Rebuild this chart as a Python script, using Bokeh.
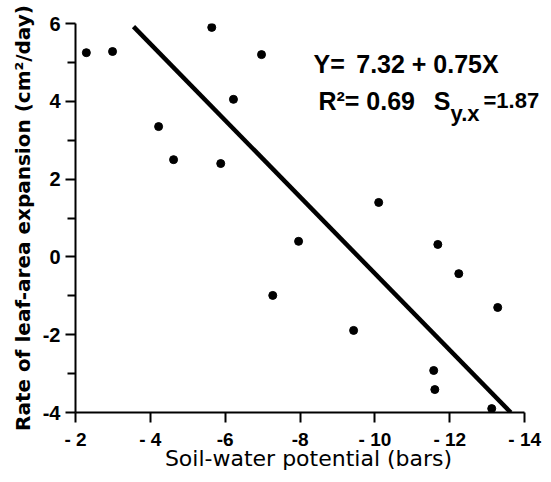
from bokeh.plotting import figure
from bokeh.models import Range1d, FixedTicker, Label
from bokeh.embed import file_html
from bokeh.resources import INLINE

# Data
soil_potential = [-2.29, -2.99, -5.64, -6.97, -6.22, -4.22, -4.62, -5.88,
                  -10.1, -7.96, -11.68, -7.27, -12.24, -13.28, -9.43,
                  -11.57, -11.60, -13.12]
expansion_rate = [5.25, 5.28, 5.90, 5.20, 4.05, 3.35, 2.50, 2.40,
                  1.40, 0.40, 0.32, -0.99, -0.43, -1.30, -1.89,
                  -2.92, -3.41, -3.90]

# regression line as drawn
line_x = [-3.55, -13.63]
line_y = [5.92, -4.0]

x_ticks = [-2, -4, -6, -8, -10, -12, -14]
x_tick_labels = ["- 2", "- 4", "-6", "-8", "- 10", "- 12", "- 14"]
y_ticks = [-4, -2, 0, 2, 4, 6]
y_minor = [-3, -1, 1, 3, 5]
y_tick_labels = ["-4", "-2", "0", "2", "4", "6"]

FONT = "Liberation Sans"

p = figure(width=543, height=474, output_backend="svg", toolbar_location=None,
           x_range=Range1d(-2.0, -14.45), y_range=Range1d(-4.0, 6.0),
           min_border_left=75, min_border_right=2, min_border_top=23,
           min_border_bottom=62)
p.outline_line_color = None
p.grid.visible = False
p.background_fill_color = "white"
p.border_fill_color = "white"

p.scatter(soil_potential, expansion_rate, size=8, color="black")
p.line(line_x, line_y, line_width=4.5, color="black")

xa = p.xaxis[0]
xa.bounds = (-14, -2)
xa.ticker = FixedTicker(ticks=x_ticks, minor_ticks=[])
xa.major_label_overrides = {t: l for t, l in zip(x_ticks, x_tick_labels)}
xa.axis_label = "Soil-water potential (bars)"
xa.axis_label_text_font = "DejaVu Sans"
xa.axis_label_text_font_style = "normal"
xa.axis_label_text_font_size = "22px"
xa.axis_label_standoff = -7
xa.major_label_text_font = FONT
xa.major_label_text_font_style = "bold"
xa.major_label_text_font_size = "19px"
xa.major_label_standoff = 6

ya = p.yaxis[0]
ya.ticker = FixedTicker(ticks=y_ticks, minor_ticks=y_minor)
ya.major_label_overrides = {t: l for t, l in zip(y_ticks, y_tick_labels)}
ya.axis_label = "Rate of leaf-area expansion (cm\u00b2/day)"
ya.axis_label_text_font = "DejaVu Sans"
ya.axis_label_text_font_style = "bold"
ya.axis_label_text_font_size = "20px"
ya.axis_label_standoff = 5
ya.major_label_text_font = FONT
ya.major_label_text_font_style = "bold"
ya.major_label_text_font_size = "20px"
ya.major_label_standoff = 5

for ax in (xa, ya):
    ax.axis_line_width = 2
    ax.axis_line_color = "black"
    ax.major_tick_line_width = 2
    ax.minor_tick_line_width = 2
    ax.major_tick_out = 10
    ax.major_tick_in = 0
    ax.minor_tick_out = 8
    ax.minor_tick_in = 0
    ax.major_label_text_color = "black"
    ax.axis_label_text_color = "black"

def add_text(x, y, t, size):
    p.add_layout(Label(x=x, y=y, text=t, text_font=FONT, text_font_style="bold",
                       text_font_size=size, text_color="black",
                       text_baseline="alphabetic", text_align="left"))

add_text(-8.36, 4.97, "Y=", "25px")
add_text(-9.50, 4.97, "7.32 + 0.75X", "25px")
add_text(-8.49, 4.02, "R\u00b2= 0.69", "25px")
add_text(-11.57, 4.02, "S", "25px")
add_text(-12.02, 3.69, "y.x", "22px")
add_text(-12.90, 4.02, "=1.87", "22px")

open("out.html", "w").write(file_html(p, INLINE))
